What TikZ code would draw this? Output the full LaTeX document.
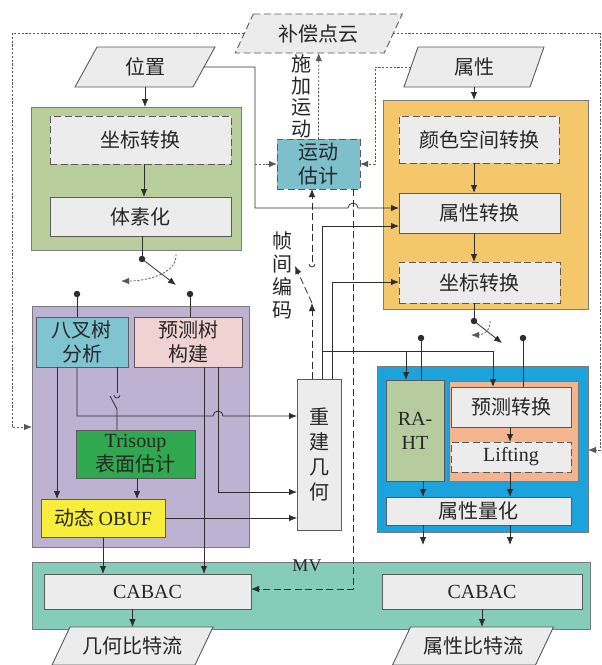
\documentclass[tikz,border=0pt]{standalone}
\usepackage{fontspec}
\setmainfont{Liberation Serif}
\newfontfamily\cjk{Noto Sans CJK SC}
\usetikzlibrary{arrows.meta,calc}
\definecolor{bord}{HTML}{5A5A5A}
\definecolor{lnc}{HTML}{2E2E2E}
\definecolor{txt}{HTML}{262626}
\definecolor{lgray}{HTML}{ECECEC}
\definecolor{ggreen}{HTML}{B9CE9D}
\definecolor{oorange}{HTML}{F5C76B}
\definecolor{ppurple}{HTML}{BDB2D1}
\definecolor{bblue}{HTML}{1DA3DC}
\definecolor{ssalmon}{HTML}{F3B48F}
\definecolor{rahtg}{HTML}{B7CC9E}
\definecolor{mblue}{HTML}{7DC0CC}
\definecolor{cyanb}{HTML}{7FC4D0}
\definecolor{pinkb}{HTML}{EFD2D2}
\definecolor{trig}{HTML}{2FA84F}
\definecolor{yel}{HTML}{F6EE3B}
\definecolor{teal}{HTML}{86CDB9}
\newcommand\mypara[8][]{%
  \draw[parashape,#1] ({#3-#5+#7},{#4-#6}) -- ({#3+#5+#7},{#4-#6}) -- ({#3+#5-#7},{#4+#6}) -- ({#3-#5-#7},{#4+#6}) -- cycle;
  \node[minimum width={2*#5 pt}, minimum height={2*#6 pt}, font=\cjk\fontsize{20pt}{24pt}\selectfont] (#2) at (#3,#4) {#8};
}
\begin{document}
\begin{tikzpicture}[x=1pt,y=-1pt,
  every node/.style={inner sep=0pt, outer sep=0pt, text=txt},
  box/.style={draw=bord, line width=0.9pt, fill=lgray, font=\cjk\fontsize{20pt}{24pt}\selectfont, align=center},
  grp/.style={draw=bord!80, line width=0.6pt},
  parashape/.style={draw=bord, line width=0.9pt, fill=lgray},
  ln/.style={draw=lnc, line width=0.8pt},
  arr/.style={ln, -{Latex[length=8pt,width=6.5pt]}},
  dsh/.style={dash pattern=on 7pt off 3.5pt},
  dotl/.style={dash pattern=on 2.2pt off 1.6pt},
  dotarr/.style={arr, dotl, draw=lnc!80},
  dasharr/.style={arr, dsh},
  dotn/.style={circle, fill=lnc, minimum size=6.5pt},
  vtext/.style={font=\cjk\fontsize{20pt}{21.5pt}\selectfont, align=center}
]
\useasboundingbox (0,0) rectangle (602,665);

% groups
\node[grp, fill=ggreen, minimum width=210pt, minimum height=143pt] (gbox) at (136,178.5) {};
\node[grp, fill=oorange, minimum width=205pt, minimum height=209pt] (obox) at (485.5,204.5) {};
\node[grp, fill=ppurple, minimum width=217pt, minimum height=241pt] (pbox) at (140.5,426.5) {};
\node[grp, fill=bblue, minimum width=211pt, minimum height=166pt] (bbox) at (482.5,449) {};
\node[grp, fill=ssalmon, minimum width=129pt, minimum height=100pt] (sbox) at (513.5,431) {};
\node[grp, fill=teal, minimum width=558pt, minimum height=67pt] (tband) at (311,595.5) {};

% parallelograms
\mypara[dash pattern=on 7pt off 3.5pt]{comp}{318.75}{33.5}{74.5}{19.5}{9}{补偿点云}
\mypara{pos}{145}{67}{59}{20}{11}{位置}
\mypara{attr}{474}{67}{63}{20}{7}{属性}
\mypara{geo}{132.5}{646}{71.5}{19}{9}{几何比特流}
\mypara{astr}{473}{646}{71.5}{19}{9}{属性比特流}

% boxes
\node[box, dsh, minimum width=181pt, minimum height=48pt] (zb1) at (140.5,140) {坐标转换};
\node[box, minimum width=181pt, minimum height=39pt] (tsh) at (140.5,216.5) {体素化};
\node[box, dsh, minimum width=160pt, minimum height=47pt] (cs) at (479,139.5) {颜色空间转换};
\node[box, minimum width=161pt, minimum height=40pt] (at) at (479.5,213) {属性转换};
\node[box, dsh, minimum width=161pt, minimum height=41pt] (zb2) at (479.5,282.5) {坐标转换};
\node[box, dsh, fill=mblue, minimum width=83pt, minimum height=50pt] (motion) at (318.5,164) {运动\\估计};
\node[box, fill=cyanb, minimum width=92pt, minimum height=50pt] (oct) at (82,342) {八叉树\\分析};
\node[box, fill=pinkb, minimum width=108pt, minimum height=50pt] (pred) at (188,342) {预测树\\构建};
\node[box, fill=trig, minimum width=119pt, minimum height=48pt] (tri) at (135.5,454) {\rmfamily Trisoup\\表面估计};
\node[box, fill=yel, minimum width=124pt, minimum height=38pt] (obuf) at (103,518) {动态 {\rmfamily OBUF}};
\node[box, minimum width=44pt, minimum height=151pt, font=\cjk\fontsize{20pt}{25pt}\selectfont] (recon) at (319,454.5) {重\\建\\几\\何};
\node[box, fill=rahtg, minimum width=58pt, minimum height=101pt, font=\rmfamily\fontsize{20pt}{24pt}\selectfont] (raht) at (415,430.5) {RA-\\HT};
\node[box, minimum width=120pt, minimum height=40pt] (ptr) at (511,407) {预测转换};
\node[box, dsh, minimum width=120pt, minimum height=30pt, font=\rmfamily\fontsize{20pt}{24pt}\selectfont] (lift) at (511,457) {Lifting};
\node[box, minimum width=185pt, minimum height=28pt] (quant) at (478.5,511) {属性量化};
\node[box, minimum width=207pt, minimum height=35pt, font=\rmfamily\fontsize{20pt}{24pt}\selectfont] (cabL) at (147.5,591.5) {CABAC};
\node[box, minimum width=200pt, minimum height=35pt, font=\rmfamily\fontsize{20pt}{24pt}\selectfont] (cabR) at (482,591.5) {CABAC};

% labels
\node[vtext] (lbl1) at (301,96.5) {施\\加\\运\\动};
\node[vtext, font=\cjk\fontsize{20pt}{23pt}\selectfont] (lbl2) at (282,275) {帧\\间\\编\\码};
\node[font=\rmfamily\fontsize{18pt}{20pt}\selectfont] (mv) at (307,566) {MV};

% dots
\node[dotn] (d1) at (142,259) {};
\node[dotn] (d2) at (77,294) {};
\node[dotn] (d3) at (190,294) {};
\node[dotn] (d4) at (474,321) {};
\node[dotn] (d5) at (421,338) {};
\node[dotn] (d6) at (523,338) {};
\coordinate (j1) at (255,164);
\coordinate (sw1) at (176,285);
\coordinate (sw2) at (502,343);

% dotted frame
\draw[dotarr] (comp.west) -- (12,33.5) -- (12,427) -- (pbox.west |- 0,427);
\draw[dotarr] (comp.east) -- (600,33.5) -- (600,450) -- (bbox.east |- 0,450);

% left column
\draw[arr] (pos.south) -- (pos.south |- gbox.north);
\draw[arr] (zb1.south -| 144,0) -- (tsh.north -| 144,0);
\draw[ln] (tsh.south -| d1) -- (d1.center);
\draw[arr] (d1.center) -- (sw1);
\draw[dotarr] (176,254) .. controls (178,272) and (150,281) .. (121,281);
\draw[ln] (d2.center) -- (oct.north -| d2);
\draw[ln] (d3.center) -- (pred.north -| d3);

% position to attribute transform
\draw[arr] (pos.east) -- (255,67) -- (255,208) -- (348,208) arc[start angle=180,end angle=0,radius=5pt] -- (at.west |- 0,208);
\draw[dotarr] (j1) -- (motion.west);
\draw[dotarr] (attr.west) -- (375,67) -- (375,164) -- (motion.east);
\draw[dotarr] (motion.north) -- (comp.south);

% inter frame switch
\draw[dasharr] (312,262) -- (motion.south -| 312,0);
\draw[ln] (309,264) arc[start angle=180,end angle=360,radius=3pt];
\draw[dasharr] (recon.north -| 312,0) -- (312,303);
\draw[dasharr] (312,303) -- (295,266);

% MV
\draw[dasharr] (motion.south -| 353,0) -- (353,589) -- (cabL.east |- 0,589);

% recon outputs
\draw[arr] (recon.north -| 322,0) -- (322,226) -- (at.west |- 0,226);
\draw[arr] (recon.north -| 332,0) -- (332,282) -- (zb2.west |- 0,282);
\draw[arr] (322,351) -- (493,351) -- (ptr.north -| 493,0);
\draw[arr] (406,351) -- (raht.north -| 406,0);

% right column
\draw[arr] (attr.south) -- (attr.south |- obox.north);
\draw[arr] (cs.south -| attr.south) -- (at.north -| attr.south);
\draw[arr] (at.south -| attr.south) -- (zb2.north -| attr.south);
\draw[ln] (zb2.south -| d4) -- (d4.center);
\draw[arr] (d4.center) -- (sw2);
\draw[dotarr] (490,321) .. controls (491,332) and (481,335) .. (471,335);
\draw[ln] (d5.center) -- (raht.north -| d5);
\draw[ln] (d6.center) -- (ptr.north -| d6);
\draw[arr] (ptr.south -| 510,0) -- (lift.north -| 510,0);
\draw[arr] (lift.south -| 510,0) -- (quant.north -| 510,0);
\draw[arr] (raht.south -| 423,0) -- (quant.north -| 423,0);
\draw[arr] (quant.south -| 423,0) -- (423,545);
\draw[arr] (quant.south -| 510,0) -- (510,545);

% purple internals
\draw[arr] (oct.south -| 57,0) -- (obuf.north -| 57,0);
\draw[arr] (oct.south -| 77,0) -- (77,416) -- (213,416) arc[start angle=180,end angle=0,radius=5pt] -- (recon.west |- 0,416);
\draw[ln] (oct.south -| 117,0) -- (117,393);
\draw[ln] (114,395) arc[start angle=180,end angle=360,radius=3pt];
\draw[ln] (110,396) -- (117,409) -- (tri.north -| 117,0);
\draw[arr] (tri.south -| 137,0) -- (obuf.north -| 137,0);
\draw[arr] (pred.south -| 204,0) -- (cabL.north -| 204,0);
\draw[arr] (pred.south -| 218,0) -- (218,492) -- (recon.west |- 0,492);
\draw[arr] (obuf.east) -- (recon.west |- obuf.east);
\draw[arr] (obuf.south) -- (cabL.north -| obuf.south);

% bitstreams
\draw[arr] (cabL.south -| geo.north) -- (geo.north);
\draw[arr] (cabR.south) -- (astr.north -| cabR.south);
\end{tikzpicture}
\end{document}
